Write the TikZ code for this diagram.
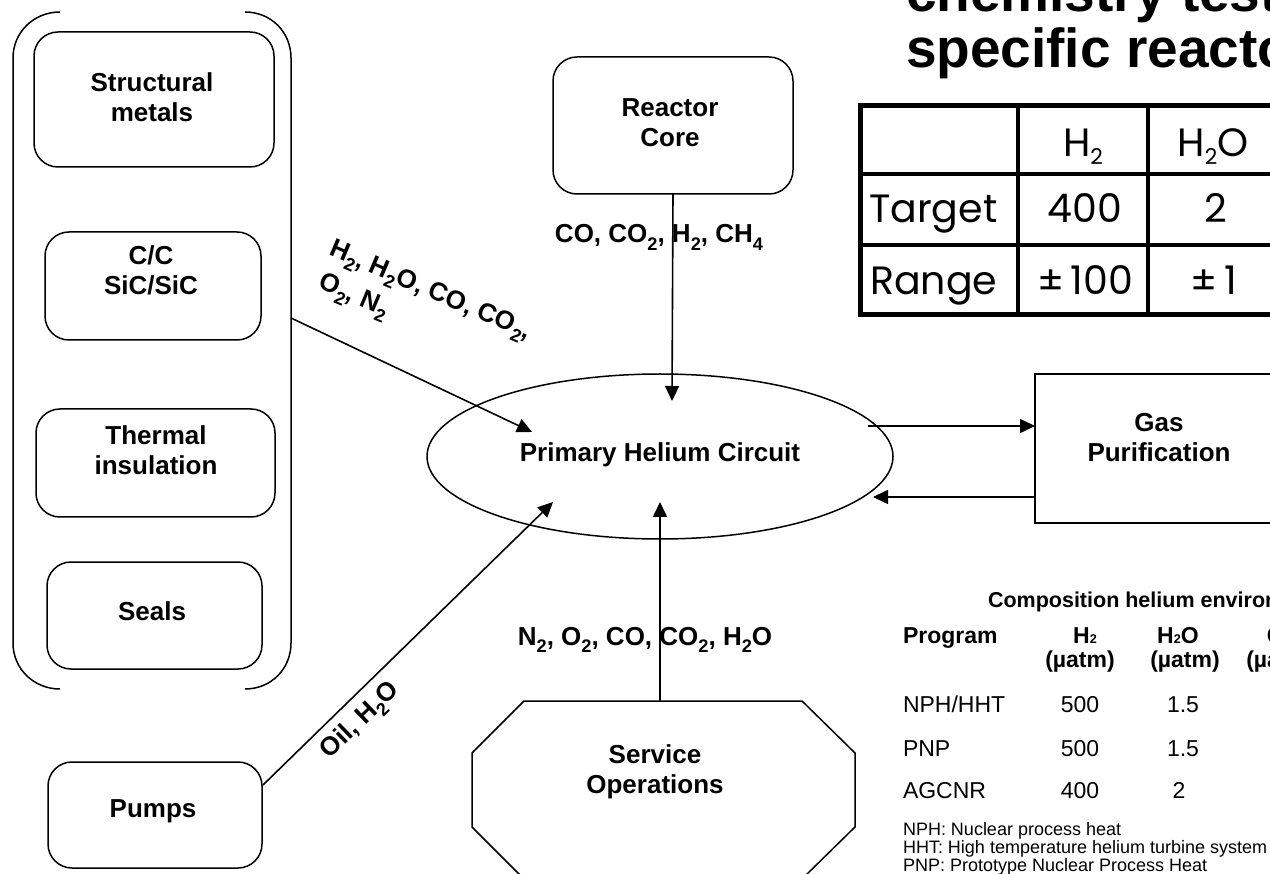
\documentclass[tikz,border=0pt]{standalone}
\usepackage{fontspec}
\setmainfont{Liberation Sans}
\newfontfamily\gridfont{Poppins}
\usetikzlibrary{arrows.meta,shapes.geometric,calc}

% subscripts of the chemical formulas
\newcommand{\sbs}[1]{\raisebox{-0.27em}{\scalebox{0.7}{#1}}}
\newcommand{\tsb}[1]{\raisebox{-0.2em}{\scalebox{0.55}{#1}}}
\newcommand{\csb}[1]{\raisebox{-0.02em}{\scalebox{0.55}{#1}}}

\begin{document}
\begin{tikzpicture}[x=1pt,y=-1pt]
\tikzset{
  every node/.style={inner sep=0pt, outer sep=0pt},
  rbox/.style={draw, line width=1.5pt, rounded corners=24pt},
  sbox/.style={draw, line width=1.5pt},
  lbl/.style={font=\fontsize{26}{30}\selectfont\bfseries, align=center},
  chem/.style={font=\fontsize{26}{30}\selectfont\bfseries},
  arr/.style={line width=1.6pt, -{Triangle[length=15pt,width=14pt]}},
  thick outline/.style={line width=1.5pt},
  grid/.style={font=\fontsize{39.5}{44}\selectfont\gridfont},
  gridthick/.style={line width=5pt},
  gridthin/.style={line width=3.5pt},
  title/.style={font=\fontsize{55}{57}\selectfont\bfseries},
  ctitle/.style={font=\fontsize{21.5}{24}\selectfont\bfseries},
  chead/.style={font=\fontsize{23}{24}\selectfont\bfseries, align=center},
  ccell/.style={font=\fontsize{23}{26}\selectfont},
  cnote/.style={font=\fontsize{18}{18}\selectfont},
}
\useasboundingbox (0,0) rectangle (1270,874);
\clip (0,0) rectangle (1270,874);

% ---- material group with its bracket
\draw[thick outline] (60,12) .. controls (34,12) and (13,32) .. (13,58)
  -- (13,643) .. controls (13,669) and (34,689) .. (60,689);
\draw[thick outline] (245,12) .. controls (271,12) and (291,32) .. (291,58)
  -- (291,643) .. controls (291,669) and (271,689) .. (245,689);
\coordinate (brk) at (291,318);

\node[rbox, minimum width=240pt, minimum height=135pt] (struct) at (154,99.5) {};
\node[lbl] (structT) at (152,97) {Structural\\metals};
\node[rbox, minimum width=216pt, minimum height=108pt] (cc) at (153,286) {};
\node[lbl] (ccT) at (151,270) {C/C\\SiC/SiC};
\node[rbox, minimum width=239pt, minimum height=108pt] (therm) at (155.5,463) {};
\node[lbl] (thermT) at (156,450) {Thermal\\insulation};
\node[rbox, minimum width=215pt, minimum height=107pt] (seals) at (154.5,615.5) {};
\node[lbl] (sealsT) at (152,611) {Seals};
\node[rbox, minimum width=214pt, minimum height=106pt] (pumps) at (155,815) {};
\node[lbl] (pumpsT) at (153,811) {Pumps};

% ---- reactor core, helium circuit, purification
\node[rbox, minimum width=240pt, minimum height=137pt] (core) at (673,125.5) {};
\node[lbl] (coreT) at (670,123) {Reactor\\Core};
\node[draw, thick outline, ellipse, minimum width=466pt, minimum height=165pt] (phc) at (660,456.5) {};
\node[lbl] (phcT) at (660,455) {Primary Helium Circuit};
\node[sbox, minimum width=248pt, minimum height=149pt] (gas) at (1159,448.5) {};
\node[lbl] (gasT) at (1159,438) {Gas\\Purification};

% ---- service operations octagon
\draw[thick outline] (524,701) -- (802,701) -- (855,753) -- (855,827) -- (802,879)
  -- (524,879) -- (472,827) -- (472,753) -- cycle;
\coordinate (svctop) at (660,701);
\node[lbl] (svcT) at (655,772) {Service\\Operations};

% ---- arrow tips inside the circuit
\coordinate (tipM) at (532,432);
\coordinate (tipC) at (672,401);
\coordinate (tipP) at (553,502);
\coordinate (tipS) at (660,502);
\coordinate (gasout) at (868,426);
\coordinate (gasin) at (873,497);
\coordinate (pumpout) at (263,785);

\draw[arr] (brk) -- (tipM);
\draw[arr] (core.south) -- (tipC);
\draw[arr] (pumpout) -- (tipP);
\draw[arr] (svctop) -- (tipS);
\draw[arr] (gasout) -- (gasout -| gas.west);
\draw[arr] (gasin -| gas.west) -- (gasin);

% ---- species labels
\node[chem, anchor=base] (lcore) at (659,243) {CO, CO\sbs{2}, H\sbs{2}, CH\sbs{4}};
\node[chem, anchor=base] (lsvc) at (645,645) {N\sbs{2}, O\sbs{2}, CO, CO\sbs{2}, H\sbs{2}O};
\node[chem, rotate=-23, anchor=base west] (lmat1) at (328,255) {H\sbs{2}, H\sbs{2}O, CO, CO\sbs{2},};
\node[chem, rotate=-23, anchor=base west] (lmat2) at (317,288) {O\sbs{2}, N\sbs{2}};
\node[chem, rotate=44] (lpump) at (361,721) {Oil, H\sbs{2}O};

% ---- title
\node[title, anchor=base west] (ttl1) at (906,12) {chemistry test};
\node[title, anchor=base west] (ttl2) at (906,68) {specific reactor};

% ---- target table
\draw[gridthin] (1018,105) -- (1018,315);
\draw[gridthin] (1148,105) -- (1148,315);
\draw[gridthin] (1278,105) -- (1278,315);
\draw[gridthin] (860,174) -- (1300,174);
\draw[gridthin] (860,245) -- (1300,245);
\draw[gridthick] (860.5,105.5) rectangle (1310,314.5);
\node[grid, anchor=base] (h1) at (1083,157) {H\tsb{2}};
\node[grid, anchor=base] (h2) at (1213,157) {H\tsb{2}O};
\node[grid, anchor=base west] (r1) at (869,223) {Target};
\node[grid, anchor=base] (r1a) at (1085,223) {400};
\node[grid, anchor=base] (r1b) at (1216,223) {2};
\node[grid, anchor=base west] (r2) at (870,295) {Range};
\node[grid, anchor=base] (r2a) at (1085,295) {±\,100};
\node[grid, anchor=base] (r2b) at (1214,295) {±\,1};

% ---- composition table
\node[ctitle, anchor=base west] (ct) at (988,607) {Composition helium environment};
\node[chead, anchor=base west] (cp) at (903,643) {Program};
\node[chead, anchor=base] (ch1a) at (1085,643) {H\csb{2}};
\node[chead, anchor=base] (ch1b) at (1080,667) {(µatm)};
\node[chead, anchor=base] (ch2a) at (1178,643) {H\csb{2}O};
\node[chead, anchor=base] (ch2b) at (1185,667) {(µatm)};
\node[chead, anchor=base] (ch3a) at (1284,643) {CO};
\node[chead, anchor=base] (ch3b) at (1281,667) {(µatm)};
\node[ccell, anchor=base west] (c1) at (903,712) {NPH/HHT};
\node[ccell, anchor=base] (c1a) at (1080,712) {500};
\node[ccell, anchor=base] (c1b) at (1183,712) {1.5};
\node[ccell, anchor=base west] (c2) at (903,756) {PNP};
\node[ccell, anchor=base] (c2a) at (1080,756) {500};
\node[ccell, anchor=base] (c2b) at (1183,756) {1.5};
\node[ccell, anchor=base west] (c3) at (903,798) {AGCNR};
\node[ccell, anchor=base] (c3a) at (1080,798) {400};
\node[ccell, anchor=base] (c3b) at (1179,798) {2};
\node[cnote, anchor=base west] (n1) at (903,835) {NPH: Nuclear process heat};
\node[cnote, anchor=base west] (n2) at (903,853) {HHT: High temperature helium turbine system};
\node[cnote, anchor=base west] (n3) at (903,871) {PNP: Prototype Nuclear Process Heat};
\end{tikzpicture}
\end{document}
